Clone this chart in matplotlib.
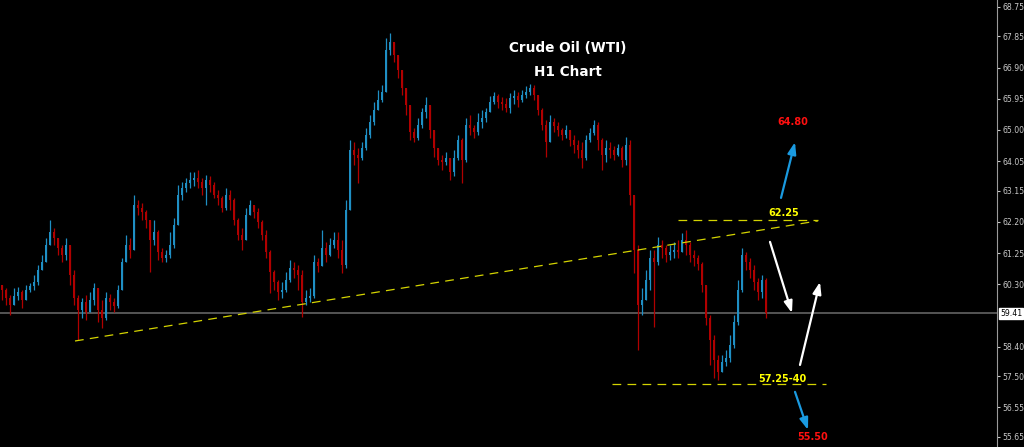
import matplotlib
matplotlib.use("Agg")
import matplotlib.pyplot as plt
import numpy as np

# ---- data (prices) ----
first_open = 60.28
closes = [60.12, 59.88, 59.67, 59.94, 60.06, 59.82, 60.12, 60.25, 60.37, 60.73,
          60.98, 61.50, 61.89, 61.71, 61.40, 61.19, 61.50, 60.58, 59.88, 59.51,
          59.76, 59.45, 59.82, 60.18, 59.51, 59.27, 59.88, 59.76, 59.64, 60.12,
          60.98, 61.50, 61.34, 62.71, 62.62, 62.50, 62.26, 61.65, 61.89, 61.28,
          61.10, 61.19, 61.50, 62.10, 63.02, 63.23, 63.38, 63.48, 63.54, 63.41,
          63.23, 63.48, 63.32, 63.02, 62.93, 62.62, 63.02, 62.87, 62.26, 61.80,
          61.65, 62.41, 62.71, 62.50, 62.20, 61.80, 61.28, 60.67, 60.37, 60.06,
          60.12, 60.43, 60.79, 60.73, 60.58, 59.76, 59.88, 59.94, 60.98, 60.85,
          61.40, 61.19, 61.50, 61.65, 61.34, 60.89, 62.56, 64.39, 64.24, 64.15,
          64.45, 64.85, 65.24, 65.61, 65.91, 66.16, 67.44, 67.68, 67.28, 66.83,
          66.28, 65.76, 64.94, 64.76, 65.15, 65.55, 65.76, 65.00, 64.45, 64.09,
          64.02, 64.15, 63.72, 64.15, 64.69, 64.09, 65.15, 65.06, 64.94, 65.24,
          65.36, 65.55, 65.85, 66.04, 65.85, 65.79, 65.67, 65.97, 66.04, 65.91,
          66.07, 66.16, 66.28, 66.07, 65.61, 65.15, 64.63, 65.24, 65.12, 65.00,
          64.85, 65.00, 64.69, 64.54, 64.39, 64.15, 64.69, 64.91, 65.15, 64.69,
          64.24, 64.45, 64.39, 64.24, 64.45, 64.09, 64.54, 63.02, 61.34, 59.67,
          59.82, 60.43, 61.10, 60.98, 61.50, 61.40, 61.19, 61.28, 61.34, 61.28,
          61.65, 61.50, 61.19, 61.10, 60.92, 60.28, 59.27, 58.60, 57.99, 57.63,
          57.93, 58.05, 58.45, 59.15, 60.12, 61.19, 60.98, 60.73, 60.37, 60.06,
          60.43, 59.41]
highs = [60.28, 60.18, 59.97, 60.18, 60.22, 60.12, 60.28, 60.34, 60.58, 60.89,
         61.19, 61.71, 62.26, 62.01, 61.65, 61.50, 61.71, 61.50, 60.73, 59.97,
         59.88, 59.97, 60.06, 60.34, 60.18, 59.82, 60.06, 60.00, 59.88, 60.28,
         61.10, 61.80, 61.71, 63.02, 62.87, 62.78, 62.56, 62.20, 62.26, 61.95,
         61.40, 61.34, 61.89, 62.32, 63.32, 63.41, 63.54, 63.72, 63.72, 63.78,
         63.54, 63.63, 63.60, 63.41, 63.17, 62.99, 63.23, 63.17, 62.93, 62.32,
         62.01, 62.62, 62.87, 62.71, 62.62, 62.26, 61.95, 61.34, 60.73, 60.43,
         60.37, 60.67, 61.04, 60.98, 60.89, 60.73, 60.12, 60.18, 61.19, 61.10,
         61.95, 61.59, 61.71, 61.89, 61.89, 61.65, 62.87, 64.69, 64.63, 64.45,
         64.63, 65.06, 65.46, 65.85, 66.22, 66.37, 67.80, 67.95, 67.59, 67.13,
         66.77, 66.28, 65.61, 65.06, 65.36, 65.67, 66.00, 65.76, 65.00, 64.45,
         64.24, 64.33, 64.15, 64.39, 64.85, 64.76, 65.36, 65.46, 65.15, 65.52,
         65.61, 65.67, 66.04, 66.16, 66.10, 66.00, 65.97, 66.13, 66.22, 66.16,
         66.22, 66.34, 66.40, 66.37, 66.07, 65.67, 65.30, 65.46, 65.36, 65.24,
         65.06, 65.15, 65.00, 64.85, 64.69, 64.63, 64.85, 65.06, 65.30, 65.24,
         64.76, 64.69, 64.63, 64.51, 64.57, 64.51, 64.79, 64.69, 63.02, 61.50,
         60.18, 60.73, 61.34, 61.34, 61.74, 61.65, 61.50, 61.50, 61.59, 61.65,
         61.86, 61.95, 61.59, 61.34, 61.19, 60.98, 60.28, 59.36, 58.75, 58.14,
         58.14, 58.30, 58.75, 59.36, 60.43, 61.40, 61.28, 61.10, 60.89, 60.49,
         60.58, 60.49]
lows = [59.82, 59.67, 59.36, 59.67, 59.82, 59.58, 59.88, 60.06, 60.12, 60.28,
        60.73, 61.10, 61.65, 61.50, 61.19, 60.98, 61.04, 60.28, 59.67, 58.60,
        59.27, 59.21, 59.45, 59.67, 59.15, 58.97, 59.21, 59.51, 59.45, 59.58,
        60.12, 60.98, 61.10, 61.34, 62.41, 62.26, 62.01, 60.67, 61.50, 61.04,
        60.98, 60.98, 61.10, 61.40, 62.50, 62.87, 63.11, 63.23, 63.29, 63.23,
        63.02, 62.71, 63.11, 62.93, 62.71, 62.50, 62.56, 62.56, 62.10, 61.65,
        61.34, 61.65, 62.41, 62.32, 62.01, 61.65, 61.10, 60.03, 60.12, 59.82,
        59.88, 60.06, 60.37, 60.49, 60.12, 59.30, 59.67, 59.76, 59.88, 60.67,
        60.98, 60.98, 61.16, 61.40, 61.10, 60.64, 60.79, 62.56, 63.93, 63.38,
        64.09, 64.39, 64.76, 65.15, 65.61, 65.85, 66.68, 67.28, 67.07, 66.58,
        66.07, 65.46, 64.69, 64.63, 64.69, 65.06, 65.36, 64.76, 64.18, 63.93,
        63.78, 63.93, 63.48, 63.60, 64.09, 63.38, 64.02, 64.85, 64.76, 64.85,
        65.06, 65.24, 65.55, 65.79, 65.67, 65.61, 65.55, 65.52, 65.79, 65.70,
        65.85, 65.97, 66.07, 65.91, 65.46, 65.00, 64.18, 64.69, 64.94, 64.82,
        64.69, 64.76, 64.51, 64.30, 64.15, 63.84, 64.09, 64.63, 64.85, 64.39,
        63.78, 64.02, 64.15, 64.09, 64.21, 63.87, 63.93, 62.71, 60.64, 58.30,
        59.36, 59.82, 60.12, 59.00, 60.89, 61.10, 60.98, 61.04, 61.10, 61.10,
        61.28, 61.19, 60.98, 60.85, 60.73, 60.06, 59.06, 57.84, 57.44, 57.38,
        57.63, 57.81, 57.93, 58.36, 59.06, 60.06, 60.73, 60.49, 60.12, 59.82,
        59.88, 59.27]

current_price = 59.41
tick_values = [68.75, 67.85, 66.90, 65.95, 65.00, 64.05, 63.15, 62.20, 61.25,
               60.30, 58.40, 57.50, 56.55, 55.65]

trend_x = [18.25, 204.0]
trend_y = [58.57, 62.23]
resist_level = 62.25
resist_x = [169.0, 204.0]
support_level = 57.25
support_x = [152.5, 206.0]

title_lines = ["Crude Oil (WTI)", "H1 Chart"]
label_res = "62.25"
label_sup = "57.25-40"
target_up = "64.80"
target_dn = "55.50"

# arrows: (x_tail, y_tail, x_head, y_head) in (candle index, price)
arrow_blue_up = (194.75, 62.93, 198.25, 64.63)
arrow_white_dn = (192.0, 61.59, 197.5, 59.42)
arrow_white_up = (199.5, 57.84, 204.5, 60.37)
arrow_blue_dn = (198.25, 57.02, 201.5, 55.86)

# ---- figure ----
fig = plt.figure(figsize=(10.24, 4.47), dpi=100, facecolor="black")
ax = fig.add_axes([0, 0, 997 / 1024, 1])
ax.set_facecolor("black")

n = len(closes)
opens = [first_open] + closes[:-1]
idx = np.arange(n)
o = np.array(opens)
c = np.array(closes)
h = np.maximum(np.array(highs), np.maximum(o, c))
l = np.minimum(np.array(lows), np.minimum(o, c))

bull = "#1f8fc4"
bear = "#b00000"
cols = [bull if cc >= oo else bear for oo, cc in zip(o, c)]

ax.vlines(idx, l, h, colors=cols, linewidth=0.9, zorder=3)
bottoms = np.minimum(o, c)
heights = np.maximum(np.abs(c - o), 0.02)
ax.bar(idx, heights, bottom=bottoms, width=0.7, color=cols, linewidth=0, zorder=3)

# current price line
ax.axhline(current_price, color="#555555", linewidth=1.4, zorder=1)

# trendlines
yel = "#d4d400"
ax.plot(trend_x, trend_y, color=yel, linewidth=0.9, dashes=(7, 5), zorder=4)
ax.plot(resist_x, [resist_level] * 2, color=yel, linewidth=0.9, dashes=(7, 5), zorder=4)
ax.plot(support_x, [support_level] * 2, color=yel, linewidth=0.9, dashes=(7, 5), zorder=4)

# labels
ax.text(195.5, 62.47, label_res, color="#ffff00", fontsize=7, fontweight="bold",
        ha="center", va="center", zorder=5)
ax.text(195.0, 57.41, label_sup, color="#ffff00", fontsize=7, fontweight="bold",
        ha="center", va="center", zorder=5)
ax.text(197.75, 65.24, target_up, color="#ff1010", fontsize=7, fontweight="bold",
        ha="center", va="center", zorder=5)
ax.text(202.75, 55.64, target_dn, color="#ff1010", fontsize=7, fontweight="bold",
        ha="center", va="center", zorder=5)

def arrow(a, color):
    ax.annotate("", xy=(a[2], a[3]), xytext=(a[0], a[1]),
                arrowprops=dict(arrowstyle="-|>,head_length=0.7,head_width=0.25",
                                color=color, lw=1.6, shrinkA=0, shrinkB=0),
                zorder=6)

arrow(arrow_blue_up, "#1a9ae0")
arrow(arrow_white_dn, "white")
arrow(arrow_white_up, "white")
arrow(arrow_blue_dn, "#1a9ae0")

# title
ax.text(0.5697, 1 - 48 / 447, title_lines[0], transform=ax.transAxes, color="white",
        fontsize=9.8, fontweight="bold", ha="center", va="center")
ax.text(0.5697, 1 - 72 / 447, title_lines[1], transform=ax.transAxes, color="white",
        fontsize=9.8, fontweight="bold", ha="center", va="center")

# axes
ax.set_xlim(-0.5, 248.75)
ax.set_ylim(55.34, 68.96)
ax.set_xticks([])
ax.yaxis.tick_right()
ax.set_yticks(tick_values)
ax.set_yticklabels([f"{v:.2f}" for v in tick_values])
ax.tick_params(axis="y", colors="#c8c8c8", labelsize=5.6, length=2.5, width=0.8,
               pad=1.5, labelcolor="#c8c8c8")
for s in ["top", "left", "bottom"]:
    ax.spines[s].set_visible(False)
ax.spines["right"].set_color("#9a9a9a")
ax.spines["right"].set_linewidth(0.8)

# current price box
ax.text(1.003, current_price, f"{current_price:.2f}", transform=ax.get_yaxis_transform(),
        color="black", fontsize=5.6, ha="left", va="center", clip_on=False,
        bbox=dict(boxstyle="square,pad=0.12", facecolor="white", edgecolor="white"))

fig.savefig("out.png", dpi=100, facecolor="black")
